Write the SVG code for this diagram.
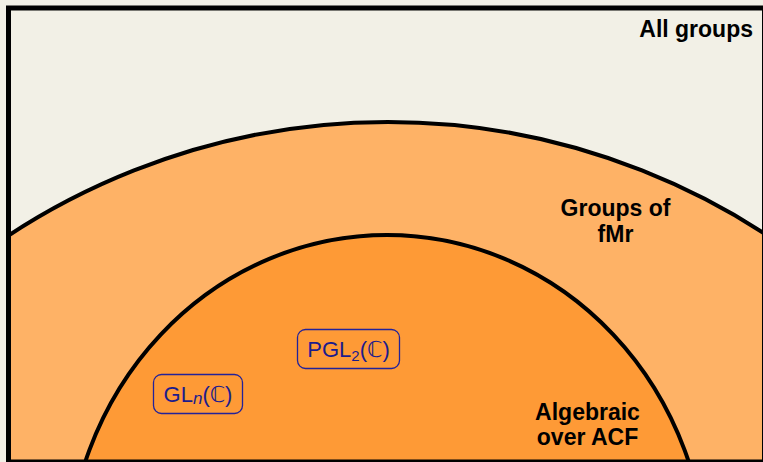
<svg xmlns="http://www.w3.org/2000/svg" width="763" height="462" viewBox="0 0 763 462">
  <defs>
    <clipPath id="inside">
      <rect x="8.5" y="8" width="756" height="454"/>
    </clipPath>
    <style>
      .region-label { font-family: "Liberation Sans", Arial, sans-serif; font-weight: bold; font-size: 23px; fill: #000; }
      .node-box { fill: none; stroke: #22229a; stroke-width: 1.3; }
      .node-text { font-family: "Liberation Sans", "DejaVu Sans", sans-serif; font-size: 22px; fill: #1c1c8c; }
      .curve { stroke: #000; stroke-width: 4; }
    </style>
  </defs>
  <rect x="0" y="0" width="763" height="462" fill="#f2f0e6"/>
  <g id="regions" clip-path="url(#inside)">
    <g id="fmr">
      <circle class="curve" cx="388" cy="812" r="690" fill="#feb266"/>
    </g>
    <g id="algebraic">
      <ellipse class="curve" cx="387" cy="575" rx="320" ry="340" fill="#fe9a36"/>
    </g>
  </g>
  <g id="frame">
    <rect x="8.5" y="8" width="756" height="454" fill="none" stroke="#000" stroke-width="5"/>
  </g>
  <g id="labels">
    <text class="region-label" x="753" y="37" text-anchor="end">All groups</text>
    <text class="region-label" x="615.5" y="216" text-anchor="middle">Groups of</text>
    <text class="region-label" x="615.5" y="242" text-anchor="middle">fMr</text>
    <text class="region-label" x="587.5" y="420" text-anchor="middle">Algebraic</text>
    <text class="region-label" x="587.5" y="445" text-anchor="middle">over ACF</text>
  </g>
  <g id="node-pgl2">
    <rect class="node-box" x="297.5" y="329.5" width="102" height="39" rx="8"/>
    <text class="node-text" x="348.5" y="356.5" text-anchor="middle">PGL<tspan font-size="15" dy="4">2</tspan><tspan dy="-4">(<tspan font-family="DejaVu Sans">ℂ</tspan>)</tspan></text>
  </g>
  <g id="node-gln">
    <rect class="node-box" x="153.5" y="374.5" width="89" height="39" rx="8"/>
    <text class="node-text" x="198" y="401.5" text-anchor="middle">GL<tspan font-size="17" font-style="italic" dy="2">n</tspan><tspan dy="-2">(<tspan font-family="DejaVu Sans">ℂ</tspan>)</tspan></text>
  </g>
</svg>
